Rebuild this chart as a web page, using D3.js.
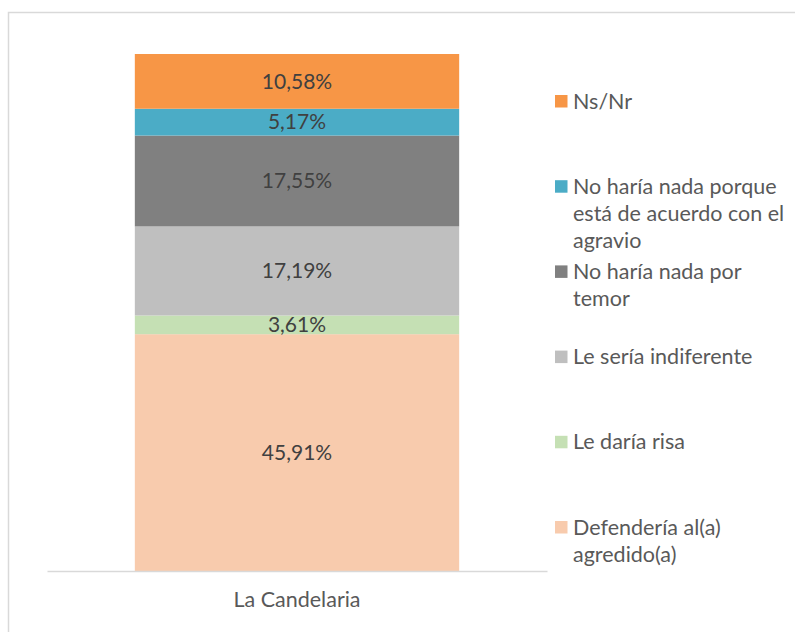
<!DOCTYPE html>
<html>
<head>
<meta charset="utf-8">
<script src="https://cdn.jsdelivr.net/npm/d3@7"></script>
<style>
  body { margin: 0; background: #fff; }
  text { font-family: Lato, "Open Sans", sans-serif; }
</style>
</head>
<body>
<div id="chart"></div>
<script>
// data, bottom to top
const category = "La Candelaria";
const series = [
  "Defendería al(a) agredido(a)",
  "Le daría risa",
  "Le sería indiferente",
  "No haría nada por temor",
  "No haría nada porque está de acuerdo con el agravio",
  "Ns/Nr"
];
const values = [45.91, 3.61, 17.19, 17.55, 5.17, 10.58];
const colors = ["#f8cbad", "#c5e0b4", "#bfbfbf", "#808080", "#4bacc6", "#f79646"];
// legend lines as wrapped in the picture (top to bottom)
const legendLines = [
  ["Ns/Nr"],
  ["No haría nada porque", "está de acuerdo con el", "agravio"],
  ["No haría nada por", "temor"],
  ["Le sería indiferente"],
  ["Le daría risa"],
  ["Defendería al(a)", "agredido(a)"]
];

const svg = d3.select("#chart")
  .append("svg")
  .attr("width", 795)
  .attr("height", 632);

// chart frame (only left and top visible)
svg.append("rect")
  .attr("x", 8.5)
  .attr("y", 12.5)
  .attr("width", 820)
  .attr("height", 700)
  .attr("fill", "none")
  .attr("stroke", "#d9d9d9")
  .attr("stroke-width", 1.5);

const xScale = d3.scaleBand().domain([category]).range([47, 547]).paddingInner(0.35).paddingOuter(0.176);
const yScale = d3.scaleLinear().domain([0, 100]).range([572, 54]);

// stack
let acc = 0;
const stacked = values.map(function (v, i) {
  const d = { name: series[i], value: v, y0: acc, y1: acc + v, color: colors[i] };
  acc += v;
  return d;
});

const bar = svg.append("g");
bar.selectAll("rect")
  .data(stacked)
  .join("rect")
  .attr("x", xScale(category))
  .attr("width", xScale.bandwidth())
  .attr("y", function (d) { return yScale(Math.min(d.y1, 100)); })
  .attr("height", function (d) { return yScale(d.y0) - yScale(Math.min(d.y1, 100)); })
  .attr("fill", function (d) { return d.color; });

bar.selectAll("text")
  .data(stacked)
  .join("text")
  .attr("x", xScale(category) + xScale.bandwidth() / 2)
  .attr("y", function (d) { return (yScale(d.y0) + yScale(Math.min(d.y1, 100))) / 2; })
  .attr("dy", "0.35em")
  .attr("text-anchor", "middle")
  .attr("font-size", 21)
  .attr("fill", "#404040")
  .text(function (d) { return d3.format(".2f")(d.value).replace(".", ",") + "%"; });

// x axis
const xAxis = d3.axisBottom(xScale).tickSize(0).tickPadding(21);
const gx = svg.append("g")
  .attr("transform", "translate(0,571)")
  .call(xAxis);
gx.select(".domain").attr("stroke", "#d9d9d9").attr("stroke-width", 1.5);
gx.selectAll("text")
  .attr("font-size", 21.5)
  .attr("fill", "#595959")
  .style("font-family", "Lato, 'Open Sans', sans-serif");

// legend
const legend = svg.append("g");
const legendColors = colors.slice().reverse();
legendLines.forEach(function (lines, i) {
  const cy = 101 + i * 85.2;
  const g = legend.append("g");
  g.append("rect")
    .attr("x", 555)
    .attr("y", cy - 6)
    .attr("width", 12.5)
    .attr("height", 12.5)
    .attr("fill", legendColors[i]);
  lines.forEach(function (line, j) {
    g.append("text")
      .attr("x", 573)
      .attr("y", cy + j * 27)
      .attr("dy", "0.35em")
      .attr("font-size", 21.5)
      .attr("fill", "#595959")
      .text(line);
  });
});
</script>
</body>
</html>
